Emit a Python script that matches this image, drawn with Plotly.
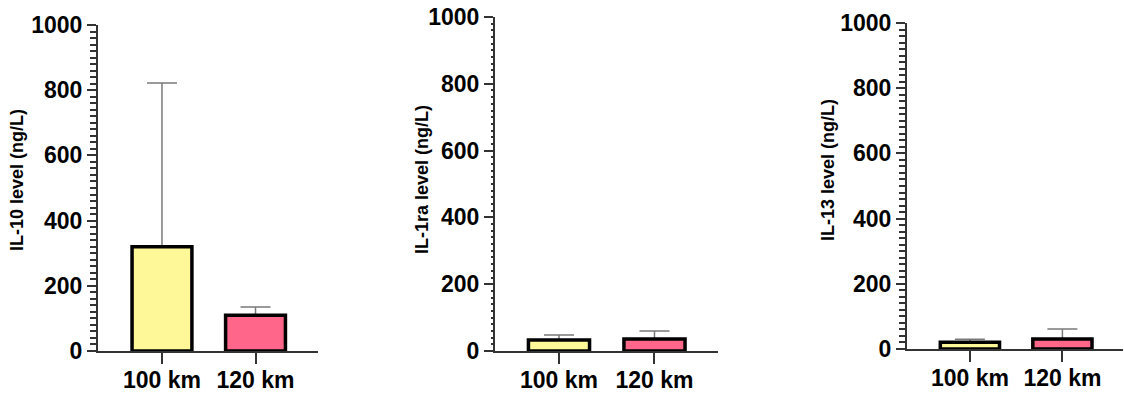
import plotly.graph_objects as go

# Cytokine levels after 100 km and 120 km runs (mean with upper SD bar)
categories = ["100 km", "120 km"]

il10_mean = [320, 110]
il10_err = [502, 25]

il1ra_mean = [33, 36]
il1ra_err = [15, 24]

il13_mean = [21, 31]
il13_err = [9, 30]

y_titles = ["IL-10 level (ng/L)", "IL-1ra level (ng/L)", "IL-13 level (ng/L)"]
y_ticks = [0, 200, 400, 600, 800, 1000]

bar_colors = ["#FFF899", "#FF6689"]
axis_color = "#333333"
err_color = "#7a7a7a"
FONT = "Liberation Sans, Arial, sans-serif"

W, H = 1124, 395

# pixel placement of each panel: (x_left, x_right, y_top, y_zero)
panels = [
    (98, 318, 25, 351),
    (495, 718, 17, 351),
    (907, 1123, 23, 349),
]
x_ranges = [[-0.684, 1.668], [-0.67, 1.665], [-0.68, 1.655]]
minor_len = [6, 2, 6]
title_pos = [(17, 180), (422, 180), (828, 170)]

series = [(il10_mean, il10_err), (il1ra_mean, il1ra_err), (il13_mean, il13_err)]

fig = go.Figure()
layout = {}
for i, ((mean, err), (xl, xr, yt, y0)) in enumerate(zip(series, panels)):
    n = "" if i == 0 else str(i + 1)
    # error bars first, then the outlined bars on top so whiskers start at the bar edge
    fig.add_trace(go.Bar(
        x=categories, y=mean, xaxis="x" + n, yaxis="y" + n, width=0.64,
        marker=dict(color="rgba(0,0,0,0)", line=dict(width=0)),
        error_y=dict(
            type="data", symmetric=False, array=err, arrayminus=[0, 0],
            color=err_color, thickness=1.5, width=15,
        ),
        showlegend=False, hoverinfo="skip",
    ))
    fig.add_trace(go.Bar(
        x=categories, y=mean, xaxis="x" + n, yaxis="y" + n, width=0.64,
        marker=dict(color=bar_colors, line=dict(color="#000000", width=3.5)),
        showlegend=False, hoverinfo="skip",
    ))
    layout["xaxis" + n] = dict(
        domain=[xl / W, xr / W],
        anchor="y" + n,
        range=x_ranges[i],
        automargin=False,
        showline=True, linecolor=axis_color, linewidth=2,
        ticks="outside", ticklen=11, tickwidth=1.5, tickcolor=axis_color,
        ticklabelstandoff=-4,
        tickfont=dict(family=FONT, size=23, color="#000000", weight="bold"),
        showgrid=False, zeroline=False, fixedrange=True,
    )
    layout["yaxis" + n] = dict(
        domain=[(H - y0) / H, (H - yt) / H],
        anchor="x" + n,
        range=[0, 1000],
        automargin=False,
        tickvals=y_ticks,
        showline=True, linecolor=axis_color, linewidth=2,
        ticks="outside", ticklen=9, tickwidth=2, tickcolor=axis_color,
        minor=dict(dtick=20, ticks="outside", ticklen=minor_len[i],
                   tickwidth=1.5, tickcolor=axis_color),
        tickfont=dict(family=FONT, size=23, color="#000000", weight="bold"),
        showgrid=False, zeroline=False, fixedrange=True,
    )

annotations = []
for (tx, ty), title in zip(title_pos, y_titles):
    annotations.append(dict(
        text=title, xref="paper", yref="paper",
        x=tx / W, y=1 - ty / H, xanchor="center", yanchor="middle",
        textangle=-90, showarrow=False,
        font=dict(family=FONT, size=18, color="#000000", weight="bold"),
    ))

fig.update_layout(
    width=W, height=H,
    margin=dict(l=0, r=0, t=0, b=0),
    paper_bgcolor="#ffffff", plot_bgcolor="#ffffff",
    barmode="overlay",
    annotations=annotations,
    **layout,
)

fig.write_html("out.html")
